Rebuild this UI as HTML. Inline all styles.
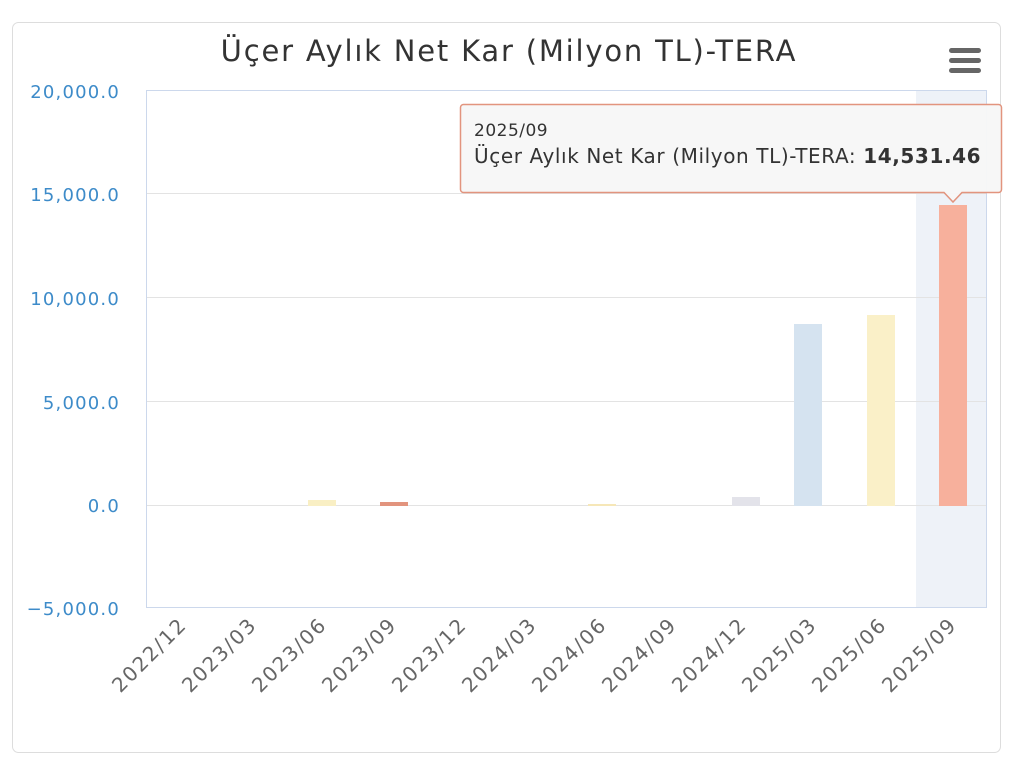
<!DOCTYPE html>
<html><head><meta charset="utf-8"><style>
html,body{margin:0;padding:0;background:#fff;width:1024px;height:770px;overflow:hidden}
svg{display:block;font-family:"DejaVu Sans","Liberation Sans",sans-serif}
</style></head><body>
<svg width="1024" height="770" viewBox="0 0 1024 770">
<rect x="12.5" y="22.5" width="988" height="730" rx="6" fill="#fff" stroke="#ddd"/>
<text x="509" y="61" text-anchor="middle" font-size="29" letter-spacing="1.8" fill="#333">Üçer Aylık Net Kar (Milyon TL)-TERA</text>
<g fill="#666"><rect x="949" y="48" width="32" height="5" rx="2.5"/><rect x="949" y="58" width="32" height="5" rx="2.5"/><rect x="949" y="68" width="32" height="5" rx="2.5"/></g>
<rect x="916" y="90" width="71" height="517" fill="#eef2f8"/>
<g stroke="#e3e3e3" stroke-width="1">
<line x1="146" x2="987" y1="90.5" y2="90.5"/><line x1="146" x2="987" y1="193.5" y2="193.5"/>
<line x1="146" x2="987" y1="297.5" y2="297.5"/><line x1="146" x2="987" y1="401.5" y2="401.5"/>
<line x1="146" x2="987" y1="505.5" y2="505.5"/></g>
<rect x="146.5" y="90.5" width="840" height="517" fill="none" stroke="#ccd8ec"/>
<g font-size="18" letter-spacing="1.2" fill="#3d8bc9" text-anchor="end">
<text x="120" y="98">20,000.0</text><text x="120" y="201">15,000.0</text><text x="120" y="305">10,000.0</text><text x="120" y="409">5,000.0</text><text x="120" y="512">0.0</text><text x="120" y="615">−5,000.0</text></g>
<rect x="308" y="500" width="28" height="6" fill="#f9efc4"/>
<rect x="380" y="502" width="28" height="4" fill="#e2947e"/>
<rect x="588" y="504" width="28" height="2" fill="#f6e7b8"/>
<rect x="732" y="497" width="28" height="9" fill="#e3e3ea"/>
<rect x="794" y="324" width="28" height="182" fill="#d5e3f0"/>
<rect x="867" y="315" width="28" height="191" fill="#faf0c8"/>
<rect x="939" y="205" width="28" height="301" fill="#f7b09c"/>
<g font-size="20" letter-spacing="1.8" fill="#666" text-anchor="end">
<text transform="translate(188,626) rotate(-45)">2022/12</text>
<text transform="translate(258,626) rotate(-45)">2023/03</text>
<text transform="translate(328,626) rotate(-45)">2023/06</text>
<text transform="translate(398,626) rotate(-45)">2023/09</text>
<text transform="translate(468,626) rotate(-45)">2023/12</text>
<text transform="translate(538,626) rotate(-45)">2024/03</text>
<text transform="translate(608,626) rotate(-45)">2024/06</text>
<text transform="translate(678,626) rotate(-45)">2024/09</text>
<text transform="translate(748,626) rotate(-45)">2024/12</text>
<text transform="translate(818,626) rotate(-45)">2025/03</text>
<text transform="translate(888,626) rotate(-45)">2025/06</text>
<text transform="translate(958,626) rotate(-45)">2025/09</text>
</g>
<path d="M463.5,104.5 H998.5 a3,3 0 0 1 3,3 V189.5 a3,3 0 0 1 -3,3 H962 L953,202 L944,192.5 H463.5 a3,3 0 0 1 -3,-3 V107.5 a3,3 0 0 1 3,-3 Z" fill="#f7f7f7" fill-opacity="0.96" stroke="#e2947e" stroke-width="1.5"/>
<text x="474" y="136" font-size="17" letter-spacing="0.5" fill="#333">2025/09</text>
<text x="474" y="163" font-size="20" letter-spacing="0.6" fill="#333">Üçer Aylık Net Kar (Milyon TL)-TERA: <tspan font-weight="bold">14,531.46</tspan></text>
</svg>
</body></html>
